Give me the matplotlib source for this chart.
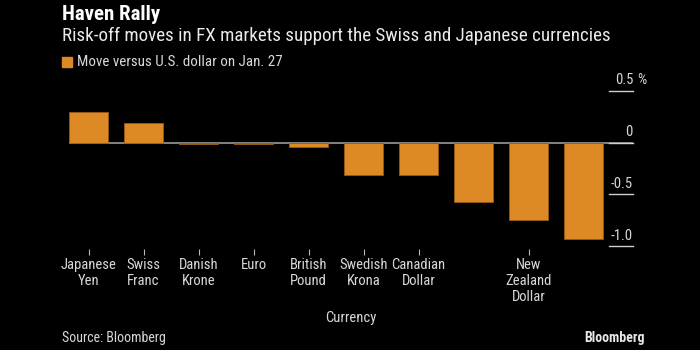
import matplotlib
matplotlib.use("Agg")
import matplotlib.pyplot as plt
from matplotlib.transforms import blended_transform_factory

labels = ["Japanese\nYen", "Swiss\nFranc", "Danish\nKrone", "Euro", "British\nPound",
          "Swedish\nKrona", "Canadian\nDollar", "", "New\nZealand\nDollar", ""]
values = [0.30, 0.19, -0.01, -0.01, -0.04, -0.31, -0.31, -0.575, -0.745, -0.93]
yticks = [0.5, 0, -0.5, -1.0]
yticklabels = ["0.5", "0", "-0.5", "-1.0"]

FONT = ["Roboto Condensed", "DejaVu Sans"]
plt.rcParams['font.family'] = FONT

BG = "black"
BAR = "#DD8A26"
TXT = "#D8D8D8"

fig = plt.figure(figsize=(7, 3.5), dpi=100, facecolor=BG)
W, H = 700, 350
x0, x1 = 69.3, 633
ytop, ybot = 85.8, 249.3
ax = fig.add_axes([x0 / W, 1 - ybot / H, (x1 - x0) / W, (ybot - ytop) / H])
ax.set_facecolor(BG)

xs = list(range(len(values)))
ax.bar(xs, values, width=0.7, color=BAR, edgecolor="#9a5a14", linewidth=0.6, zorder=3)
ax.axhline(0, color="#9a9a9a", lw=1.2, zorder=2)
ax.set_xlim(-0.35, 9.9)
ax.set_ylim(-1.03, 0.55)

for s in ax.spines.values():
    s.set_visible(False)

tick_pos = [i for i, l in enumerate(labels) if l]
ax.set_xticks(tick_pos)
ax.set_xticklabels([labels[i] for i in tick_pos], color=TXT, fontsize=10.5, linespacing=1.2)
ax.tick_params(axis="x", length=4, width=0.8, color="#bbbbbb", pad=2)

ax.set_yticks([])
tr = blended_transform_factory(ax.transAxes, ax.transData)
for v, l in zip(yticks, yticklabels):
    ax.plot([0.957, 1.0], [v, v], transform=tr, color="#cfcfcf", lw=1.0, clip_on=False, zorder=2)
    ax.text(1.0, v + 0.035, l, transform=tr, ha="right", va="bottom", color=TXT, fontsize=10.5)
ax.text(1.008, 0.5 + 0.035, "%", transform=tr, ha="left", va="bottom", color=TXT, fontsize=10.5)

ax.set_xlabel("Currency", color=TXT, fontsize=10.5, labelpad=5)

fig.text(62 / W, 1 - 15 / H, "Haven Rally", color="white", fontsize=15, fontweight="bold", va="center", ha="left")
fig.text(62 / W, 1 - 36 / H, "Risk-off moves in FX markets support the Swiss and Japanese currencies",
         color="#EAEAEA", fontsize=13.7, va="center", ha="left")
fig.patches.append(plt.Rectangle((62 / W, 1 - 67 / H), 10 / W, 10 / H, transform=fig.transFigure,
                                 color=BAR, figure=fig))
fig.text(77 / W, 1 - 62 / H, "Move versus U.S. dollar on Jan. 27", color=TXT, fontsize=10.8, va="center", ha="left")
fig.text(62 / W, 1 - 338 / H, "Source: Bloomberg", color=TXT, fontsize=10, va="center", ha="left")
fig.text(645 / W, 1 - 338 / H, "Bloomberg", color="#E8E8E8", fontsize=10, fontweight="bold", va="center", ha="right")

fig.savefig("out.png", dpi=100, facecolor=BG)
